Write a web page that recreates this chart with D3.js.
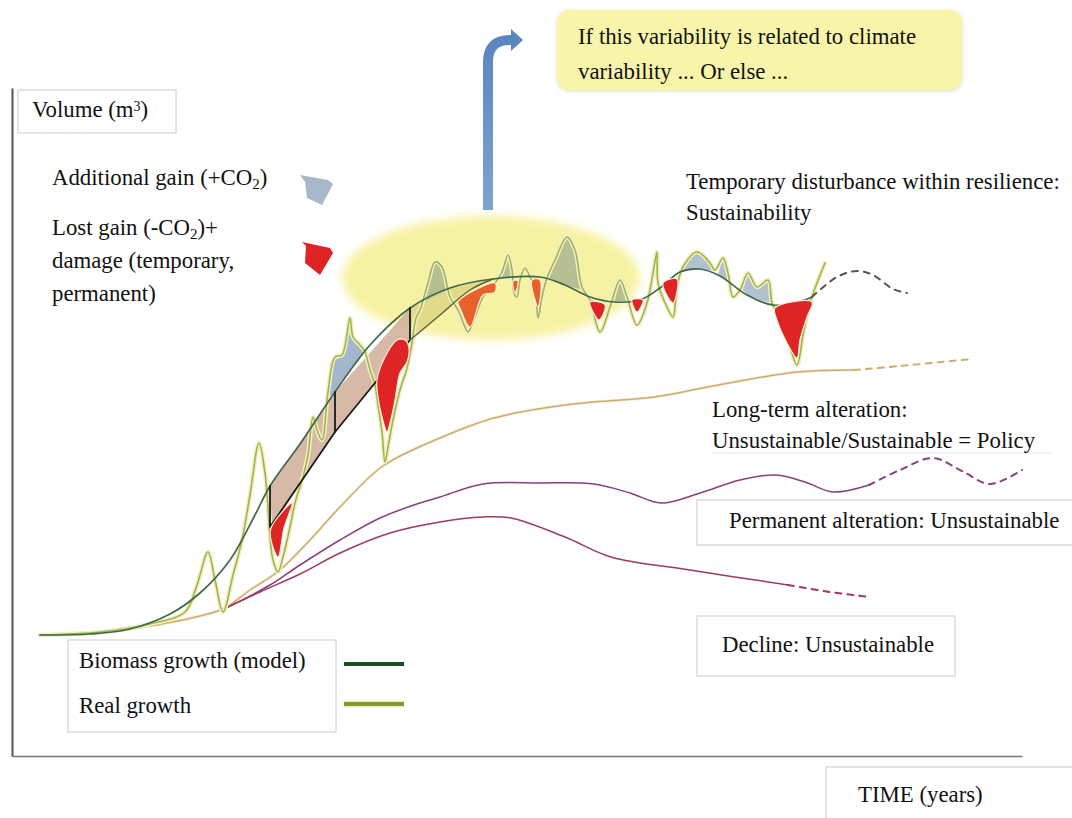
<!DOCTYPE html>
<html><head><meta charset="utf-8">
<script src="https://cdn.jsdelivr.net/npm/d3@7"></script>
<style>
html,body{margin:0;padding:0;background:#fff;}
svg{display:block;}
text{font-family:"Liberation Serif","Times New Roman",serif;font-size:22.8px;fill:#111;}
</style></head>
<body>
<svg id="c" width="1072" height="818"></svg>
<script>
// ---------- DATA (time t, volume v) ----------
const modelGrowth = [[0,0],[5,0.1],[9,0.6],[13,2.1],[16,4.2],[19,7.5],[21.5,12],[23,14.9],[26,19.1],[29.5,24.3],[33,29],[37,32.7],[41,34.7],[45.3,35.6],[50,35.8],[52.5,35],[55,33.8],[57.5,33.3],[60,33.5],[62,34.7],[64,36.3],[66,36.6],[68,35.9],[70.7,34],[73.3,33],[75.5,33.2],[77.2,33.8]];
const modelProjection = [[77.2,33.8],[79.7,35.8],[81.7,36.4],[83.3,36],[85.3,34.6],[86.7,34.2]];
const realGrowth = [[0,0],[6,0.3],[11,1.1],[14.5,2.3],[15.7,5],[16.8,8.3],[17.5,5.5],[18.3,2.3],[19.3,6],[20.2,9.5],[21,14],[21.9,19.2],[22.5,16.2],[22.8,12.8],[23,9.8],[23.3,7.5],[23.8,6.3],[24.3,7.8],[25,10.8],[25.5,13.2],[26.3,15.8],[26.8,18],[27.3,21.8],[27.7,20.5],[28.2,19.5],[28.8,24.3],[29.5,27.8],[30.2,28],[31,31.7],[31.3,29.8],[32,29],[32.5,28.3],[33,26.5],[33.5,25],[33.8,23],[34.2,20.3],[34.5,17.3],[34.8,18.8],[35.3,21.5],[36,24.5],[36.7,26.7],[37.2,29.2],[37.6,31.7],[38,32.5],[38.8,35.2],[39.5,37.3],[40.2,36.8],[41,33.8],[41.8,32.5],[42.5,30.8],[42.8,30.3],[43.5,31.8],[44.3,33.8],[45.5,35.2],[46.2,36.3],[46.8,38],[47.2,36.5],[47.4,34.2],[47.7,33.8],[48,35.5],[48.5,36.7],[49,35.8],[49.5,34.8],[49.8,31.7],[50.2,33.8],[50.7,35.7],[51.5,37.5],[52.7,39.8],[53.5,38.5],[54.2,34.8],[55,33.5],[56,30.3],[57,32.8],[58,35.5],[58.7,33.8],[59.7,31],[60.7,33.2],[61.3,36.2],[61.7,38.3],[61.8,35.2],[62.7,32.8],[63.3,31.8],[63.7,34.8],[64.3,36.8],[65.7,38.3],[67,37.2],[67.5,36.5],[68.3,37.7],[68.8,36.2],[69.3,33.8],[70,34.5],[70.8,36.2],[71.7,34.8],[72.8,35.5],[73.2,33.2],[73.7,32.2],[74.7,29.8],[75.7,27],[76.3,30],[77,33.2],[77.7,35.2],[78.5,37.2]];
const longTerm = [[0,0],[6,0.2],[11,0.9],[16,1.9],[18.5,2.7],[21,4.5],[24,6.5],[27,9.5],[30,12.8],[34.3,16.9],[40,19.7],[45.4,21.7],[52.5,23],[61.4,23.8],[66.8,24.8],[75.7,26.3],[81.4,26.5]];
const longTermProjection = [[81.4,26.5],[86,26.9],[93.2,27.6]];
const permanent = [[18.8,2.8],[23,5],[26,7],[30,9.5],[34,11.7],[38,13.2],[40,13.8],[44.3,15.1],[50,15.2],[55.4,15.1],[59,14.2],[62.1,13.2],[66,14.2],[70,15.5],[73.6,16],[76.5,15.3],[79.3,14.3],[82.9,15]];
const permanentProjection = [[82.9,15],[86,16.5],[89.3,17.7],[92.2,16.4],[95,15.1],[98.2,16.5]];
const decline = [[18.8,2.8],[22,4.3],[26,6.1],[30,8.2],[35,10.2],[40,11.3],[44.3,11.8],[47.1,11.7],[52.5,9.8],[57.1,7.8],[65,6.5],[74.8,5]];
const declineProjection = [[74.8,5],[79,4.3],[82.9,3.8]];

// shaded regions
const growthBands = [
  [[23,14.9],[29.5,24.3],[29.5,20.3],[23.2,10.8]],
  [[29.5,24.3],[37,32.7],[37,29.5],[29.5,20.3]]
];
const convergingBand = [[37,32.7],[41,34.7],[45.3,35.6],[43,34.5],[40,32],[37,29.5]];
const stepLines = [
  [[23,14.9],[23,10.8],[29.5,20.3],[29.5,24.3]],
  [[29.5,20.3],[37,29.5],[37,32.7]]
];
const convergingLine = [[37,29.5],[40,32],[43,34.5],[45.3,35.6]];
const gainAreas = [
  [[28.8,23.7],[29.3,27.5],[30.2,27.8],[31,31.7],[31.4,29.8],[32.2,28.9],[32.6,28.4],[31,26.3],[29.5,24.3]]
];
const plateauGain = [
  [[38.1,33.2],[38.8,35.2],[39.5,37.3],[40.2,36.8],[40.8,34.6],[39.5,33.9]],
  [[46,35.7],[46.8,38],[47.2,36.5],[47.2,35.8]],
  [[50.7,35.7],[51.5,37.5],[52.7,39.8],[53.5,38.5],[54.2,34.8],[54.6,34.4],[52.5,35]],
  [[57.4,33.3],[58,35.5],[58.7,33.8],[59,33.4]]
];
const plateauGainBlue = [
  [[64,36.3],[64.3,36.8],[65.7,38.3],[67,37.2],[67.5,36.4],[66,36.6]],
  [[67.8,36.1],[68.3,37.7],[68.8,36.2],[69.1,35.2]],
  [[70,34.8],[70.8,36.2],[71.7,34.8],[72.8,35.5],[73.2,33.2],[72,33.5],[70.7,34]]
];
const lossRed = [
  [[23.1,10.7],[25.2,13.2],[24.4,10.7],[23.8,7.8],[23.1,9.5]],
  [[33.7,25.5],[34.5,27.8],[35.7,29.5],[36.5,29.5],[36.9,28.7],[36.7,27.3],[36,26.2],[35.7,24.8],[35.5,23.5],[35,21.2],[34.7,20.3],[34.2,21.8],[33.8,23.8]],
  [[55,33.3],[56.5,33],[55.9,31.5]],
  [[59.2,33.5],[60.3,33.5],[59.7,32.3]],
  [[62.3,35.2],[63.7,35.6],[63.3,33.2]],
  [[73.5,32.7],[77.2,33.3],[76.7,31.8],[76,29.5],[75.7,27.7],[74.7,29.2],[73.7,31.5]]
];
const lossOrange = [
  [[41.8,33.3],[45.5,35.2],[45.5,34.3],[44.3,34],[43,30.8],[42,32.7]],
  [[47.3,35.4],[47.8,35.4],[47.5,34.2]],
  [[49.2,35.5],[50,35.5],[49.8,32.8],[49.5,33.5]]
];
// labels
const legendItems = ["Biomass growth (model)", "Real growth"];
const calloutLines = ["If this variability is related to climate", "variability ... Or else ..."];
const resilienceLines = ["Temporary disturbance within resilience:", "Sustainability"];
const longTermLines = ["Long-term alteration:", "Unsustainable/Sustainable = Policy"];

// ---------- SCALES ----------
const x = d3.scaleLinear().domain([0,100]).range([40,1040]);
const y = d3.scaleLinear().domain([0,40]).range([635,235]);

const svg = d3.select("#c");
const defs = svg.append("defs");
const blur = defs.append("filter").attr("id","soft").attr("x","-20%").attr("y","-20%").attr("width","140%").attr("height","140%");
blur.append("feGaussianBlur").attr("stdDeviation",4);
const shadow = defs.append("filter").attr("id","shadow").attr("x","-10%").attr("y","-20%").attr("width","120%").attr("height","150%");
shadow.append("feDropShadow").attr("dx",0).attr("dy",1).attr("stdDeviation",2).attr("flood-color","#c8c8a0").attr("flood-opacity",0.6);
const grad = defs.append("linearGradient").attr("id","arrowGrad").attr("x1",0).attr("y1",0).attr("x2",0).attr("y2",1);
grad.append("stop").attr("offset","0%").attr("stop-color","#5a86c0");
grad.append("stop").attr("offset","100%").attr("stop-color","#7fa3d2");

// ---------- FRAME AXES ----------
const yFrame = d3.scaleLinear().domain([0,1]).range([756,88]);
const xFrame = d3.scaleLinear().domain([0,1]).range([12,1022]);
svg.append("g").attr("transform","translate(12,0)")
  .call(d3.axisLeft(yFrame).tickValues([]).tickSizeOuter(0))
  .select(".domain").attr("stroke","#555").attr("stroke-width",2);
svg.append("g").attr("transform","translate(0,756)")
  .call(d3.axisBottom(xFrame).tickValues([]).tickSizeOuter(0))
  .select(".domain").attr("stroke","#777").attr("stroke-width",1.5);

// ---------- BACKGROUND ELEMENTS ----------
svg.append("ellipse").attr("cx",x(45.1)).attr("cy",y(35.7)).attr("rx",149).attr("ry",62)
  .attr("fill","#f6f19a").attr("opacity",0.9).attr("filter","url(#soft)");

// arrow
svg.append("path").attr("d","M488,210 V62 Q488,40 510,40 H514")
  .attr("fill","none").attr("stroke","url(#arrowGrad)").attr("stroke-width",10);
svg.append("path").attr("d","M511,29 L523,40 L511,51 Z").attr("fill","#5a86c0");

// callout
svg.append("rect").attr("x",557).attr("y",10).attr("width",405).attr("height",80).attr("rx",12)
  .attr("fill","#f8f4a9").attr("filter","url(#shadow)");
svg.selectAll(".callout").data(calloutLines).enter().append("text")
  .attr("x",578).attr("y",(d,i)=>44+i*35).text(d=>d);

// boxes
const boxes = [
  {x:18,y:90,w:158,h:43},
  {x:68,y:640,w:268,h:92},
  {x:697,y:500,w:380,h:45},
  {x:697,y:616,w:258,h:60},
  {x:826,y:767,w:260,h:60}
];
svg.selectAll(".box").data(boxes).enter().append("rect")
  .attr("x",d=>d.x).attr("y",d=>d.y).attr("width",d=>d.w).attr("height",d=>d.h)
  .attr("fill","none").attr("stroke","#dcdcdc").attr("stroke-width",1.5);
svg.append("line").attr("x1",712).attr("x2",1052).attr("y1",453).attr("y2",453).attr("stroke","#ececec").attr("stroke-width",1.5);

// ---------- GENERATORS ----------
const smooth = d3.line().x(d=>x(d[0])).y(d=>y(d[1])).curve(d3.curveCatmullRom.alpha(0.5));
const straight = d3.line().x(d=>x(d[0])).y(d=>y(d[1]));
const closed = d3.line().x(d=>x(d[0])).y(d=>y(d[1])).curve(d3.curveLinearClosed);
const closedSmooth = d3.line().x(d=>x(d[0])).y(d=>y(d[1])).curve(d3.curveCatmullRomClosed.alpha(0.5));

// ---------- FILLS ----------
svg.selectAll(".band").data(growthBands).enter().append("path").attr("d",closed)
  .attr("fill","#cfae98").attr("opacity",0.85);
svg.append("path").attr("d",closed(convergingBand)).attr("fill","#d9d27e").attr("opacity",0.7);
svg.selectAll(".gainB").data(gainAreas).enter().append("path").attr("d",closed)
  .attr("fill","#a4b6cc");
svg.selectAll(".gainP").data(plateauGain).enter().append("path").attr("d",closed)
  .attr("fill","#a9b68e").attr("opacity",0.85);
svg.selectAll(".gainPB").data(plateauGainBlue).enter().append("path").attr("d",closed)
  .attr("fill","#a8bacb").attr("opacity",0.9);

// ---------- LINES ----------
function drawLine(data, color, width, dash, gen){
  svg.append("path").attr("d",(gen||smooth)(data)).attr("fill","none")
    .attr("stroke",color).attr("stroke-width",width).attr("stroke-dasharray",dash||null)
    .attr("stroke-linejoin","round").attr("stroke-linecap","round");
}
drawLine(longTerm,"#f6efd6",3);
drawLine(longTerm,"#cdac74",1.5);
drawLine(longTermProjection,"#cdac74",2,"6,6");
drawLine(permanent,"#8a3f7c",1.5);
drawLine(permanentProjection,"#8a3f7c",2,"6,6");
drawLine(decline,"#9c3a60",1.5);
drawLine(declineProjection,"#9c3a60",2,"6,6");
drawLine(realGrowth,"#f2eec8",4.5);
drawLine(realGrowth,"#a3b547",1.6);
drawLine(modelGrowth,"#3d6a4c",1.7);
drawLine(modelProjection,"#555",2,"6,6");
stepLines.forEach(s=>drawLine(s,"#1a1a1a",1.8,null,straight));
drawLine(convergingLine,"#5a6230",1.4,null,smooth);

// losses on top
svg.selectAll(".lossR").data(lossRed).enter().append("path").attr("d",closedSmooth)
  .attr("fill","#de2424").attr("stroke","#fbeed5").attr("stroke-width",1.2);
svg.selectAll(".lossO").data(lossOrange).enter().append("path").attr("d",closedSmooth)
  .attr("fill","#e8602a").attr("stroke","#fbeed5").attr("stroke-width",1.2);

// ---------- LEGEND SWATCHES ----------
svg.append("path").attr("d","M300,175 L328,180 L333,184 L322,205 L307,198 L305,182 Z").attr("fill","#a7b8ca");
svg.append("path").attr("d","M302,242 L330,248 L333,253 L320,275 L305,263 L306,246 Z").attr("fill","#de2424");
svg.append("line").attr("x1",344).attr("x2",404).attr("y1",664).attr("y2",664).attr("stroke","#1c4a22").attr("stroke-width",4);
svg.append("line").attr("x1",344).attr("x2",404).attr("y1",704).attr("y2",704).attr("stroke","#f0efb0").attr("stroke-width",6);
svg.append("line").attr("x1",344).attr("x2",404).attr("y1",704).attr("y2",704).attr("stroke","#7f9d2c").attr("stroke-width",4);

// ---------- TEXT ----------
function sub(sel, parts){
  parts.forEach(p=>{
    const t = sel.append("tspan").text(p[0]);
    if(p[1]==="sub") t.attr("baseline-shift","-25%").attr("font-size","15px");
    if(p[1]==="sup") t.attr("baseline-shift","45%").attr("font-size","14px");
  });
}
sub(svg.append("text").attr("x",32).attr("y",117), [["Volume (m"],["3","sup"],[")"]]);
sub(svg.append("text").attr("x",52).attr("y",185), [["Additional gain (+CO"],["2","sub"],[")"]]);
sub(svg.append("text").attr("x",52).attr("y",235), [["Lost gain (-CO"],["2","sub"],[")+"]]);
svg.append("text").attr("x",52).attr("y",268).text("damage (temporary,");
svg.append("text").attr("x",52).attr("y",301).text("permanent)");
svg.selectAll(".res").data(resilienceLines).enter().append("text")
  .attr("x",686).attr("y",(d,i)=>189+i*31).text(d=>d);
svg.selectAll(".lt").data(longTermLines).enter().append("text")
  .attr("x",712).attr("y",(d,i)=>417+i*31).text(d=>d);
svg.append("text").attr("x",729).attr("y",528).text("Permanent alteration: Unsustainable");
svg.append("text").attr("x",722).attr("y",652).text("Decline: Unsustainable");
svg.selectAll(".leg").data(legendItems).enter().append("text")
  .attr("x",79).attr("y",(d,i)=>668+i*45).text(d=>d);
svg.append("text").attr("x",858).attr("y",802).text("TIME (years)");
</script>
</body></html>
